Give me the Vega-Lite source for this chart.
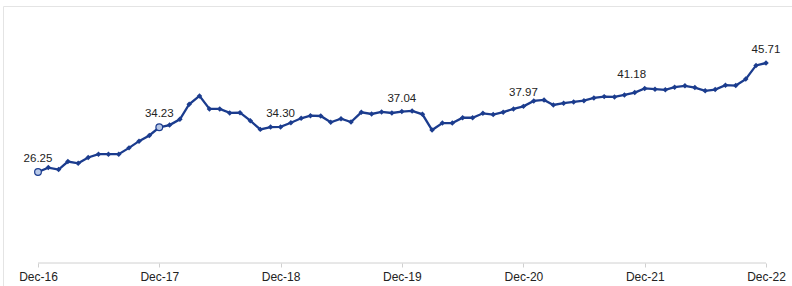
{
  "$schema": "https://vega.github.io/schema/vega-lite/v6.json",
  "width": 789,
  "height": 280,
  "autosize": {"type": "none"},
  "padding": {"left": 3, "top": 6, "right": 0, "bottom": 0},
  "background": "white",
  "config": {
    "view": {"stroke": "#e4e4e4", "strokeWidth": 1},
    "font": "Liberation Sans"
  },
  "data": {
    "values": [
      {"date": "2016/12/01", "value": 26.25},
      {"date": "2017/01/01", "value": 27.04},
      {"date": "2017/02/01", "value": 26.68},
      {"date": "2017/03/01", "value": 28.12},
      {"date": "2017/04/01", "value": 27.81},
      {"date": "2017/05/01", "value": 28.84},
      {"date": "2017/06/01", "value": 29.43},
      {"date": "2017/07/01", "value": 29.43},
      {"date": "2017/08/01", "value": 29.43},
      {"date": "2017/09/01", "value": 30.56},
      {"date": "2017/10/01", "value": 31.76},
      {"date": "2017/11/01", "value": 32.78},
      {"date": "2017/12/01", "value": 34.23},
      {"date": "2018/01/01", "value": 34.63},
      {"date": "2018/02/01", "value": 35.66},
      {"date": "2018/03/01", "value": 38.35},
      {"date": "2018/04/01", "value": 39.84},
      {"date": "2018/05/01", "value": 37.51},
      {"date": "2018/06/01", "value": 37.51},
      {"date": "2018/07/01", "value": 36.80},
      {"date": "2018/08/01", "value": 36.84},
      {"date": "2018/09/01", "value": 35.41},
      {"date": "2018/10/01", "value": 33.86},
      {"date": "2018/11/01", "value": 34.28},
      {"date": "2018/12/01", "value": 34.30},
      {"date": "2019/01/01", "value": 35.05},
      {"date": "2019/02/01", "value": 35.84},
      {"date": "2019/03/01", "value": 36.30},
      {"date": "2019/04/01", "value": 36.25},
      {"date": "2019/05/01", "value": 35.12},
      {"date": "2019/06/01", "value": 35.77},
      {"date": "2019/07/01", "value": 35.17},
      {"date": "2019/08/01", "value": 36.91},
      {"date": "2019/09/01", "value": 36.61},
      {"date": "2019/10/01", "value": 36.97},
      {"date": "2019/11/01", "value": 36.79},
      {"date": "2019/12/01", "value": 37.04},
      {"date": "2020/01/01", "value": 37.15},
      {"date": "2020/02/01", "value": 36.55},
      {"date": "2020/03/01", "value": 33.74},
      {"date": "2020/04/01", "value": 34.99},
      {"date": "2020/05/01", "value": 34.99},
      {"date": "2020/06/01", "value": 35.94},
      {"date": "2020/07/01", "value": 35.94},
      {"date": "2020/08/01", "value": 36.73},
      {"date": "2020/09/01", "value": 36.50},
      {"date": "2020/10/01", "value": 36.94},
      {"date": "2020/11/01", "value": 37.51},
      {"date": "2020/12/01", "value": 37.97},
      {"date": "2021/01/01", "value": 38.94},
      {"date": "2021/02/01", "value": 39.12},
      {"date": "2021/03/01", "value": 38.22},
      {"date": "2021/04/01", "value": 38.53},
      {"date": "2021/05/01", "value": 38.76},
      {"date": "2021/06/01", "value": 38.99},
      {"date": "2021/07/01", "value": 39.48},
      {"date": "2021/08/01", "value": 39.71},
      {"date": "2021/09/01", "value": 39.66},
      {"date": "2021/10/01", "value": 40.02},
      {"date": "2021/11/01", "value": 40.43},
      {"date": "2021/12/01", "value": 41.18},
      {"date": "2022/01/01", "value": 41.04},
      {"date": "2022/02/01", "value": 40.92},
      {"date": "2022/03/01", "value": 41.40},
      {"date": "2022/04/01", "value": 41.64},
      {"date": "2022/05/01", "value": 41.33},
      {"date": "2022/06/01", "value": 40.74},
      {"date": "2022/07/01", "value": 40.97},
      {"date": "2022/08/01", "value": 41.76},
      {"date": "2022/09/01", "value": 41.69},
      {"date": "2022/10/01", "value": 42.84},
      {"date": "2022/11/01", "value": 45.28},
      {"date": "2022/12/01", "value": 45.71}
    ]
  },
  "encoding": {
    "x": {
      "field": "date",
      "type": "temporal",
      "title": null,
      "scale": {
        "domain": [{"year": 2016, "month": 12, "date": 1}, {"year": 2022, "month": 12, "date": 1}],
        "range": [35, 763]
      },
      "axis": {
        "values": [
          {"year": 2016, "month": 12, "date": 1},
          {"year": 2017, "month": 12, "date": 1},
          {"year": 2018, "month": 12, "date": 1},
          {"year": 2019, "month": 12, "date": 1},
          {"year": 2020, "month": 12, "date": 1},
          {"year": 2021, "month": 12, "date": 1},
          {"year": 2022, "month": 12, "date": 1}
        ],
        "format": "%b-%y",
        "offset": -23,
        "domain": false,
        "grid": false,
        "tickColor": "#d0d0d0",
        "tickSize": 4,
        "labelFlush": false,
        "labelOverlap": false,
        "labelPadding": 4,
        "labelFontSize": 12,
        "labelColor": "#222222",
        "labelFont": "Liberation Sans"
      }
    },
    "y": {
      "field": "value",
      "type": "quantitative",
      "scale": {"domain": [10, 50], "range": [257, 33], "nice": false, "zero": false},
      "axis": null
    }
  },
  "layer": [
    {
      "data": {"values": [{"start": "2016/12/01", "end": "2022/12/01", "base": 10}]},
      "mark": {"type": "rule", "color": "#d0d0d0", "strokeWidth": 1},
      "encoding": {
        "x": {"field": "start", "type": "temporal"},
        "x2": {"field": "end"},
        "y": {"field": "base", "type": "quantitative"}
      }
    },
    {
      "mark": {"type": "line", "color": "#1b3c8e", "strokeWidth": 2.3}
    },
    {
      "mark": {"type": "point", "shape": "diamond", "filled": true, "color": "#1b3c8e", "size": 30, "opacity": 1}
    },
    {
      "transform": [{"filter": "month(datum.date) == 11 && year(datum.date) <= 2017"}],
      "mark": {"type": "point", "shape": "circle", "filled": true, "fill": "#b9c9e8", "stroke": "#1b3c8e", "strokeWidth": 1.2, "size": 45, "opacity": 1}
    },
    {
      "transform": [{"filter": "month(datum.date) == 11 && year(datum.date) != 2021"}],
      "mark": {"type": "text", "dy": -10, "baseline": "alphabetic", "fontSize": 11.5, "color": "#222222", "font": "Liberation Sans"},
      "encoding": {"text": {"field": "value", "type": "quantitative", "format": ".2f"}}
    },
    {
      "transform": [{"filter": "month(datum.date) == 11 && year(datum.date) == 2021"}],
      "mark": {"type": "text", "dy": -10, "dx": -13, "baseline": "alphabetic", "fontSize": 11.5, "color": "#222222", "font": "Liberation Sans"},
      "encoding": {"text": {"field": "value", "type": "quantitative", "format": ".2f"}}
    }
  ]
}
